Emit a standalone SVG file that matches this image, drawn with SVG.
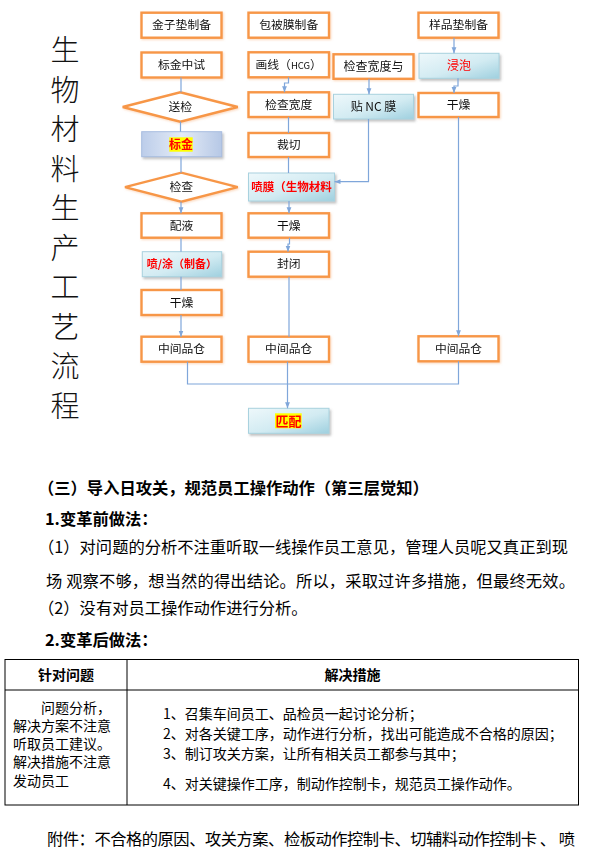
<svg xmlns="http://www.w3.org/2000/svg" width="601" height="851" viewBox="0 0 601 851">
<defs>
<style>
.box{fill:#fff;stroke:#F79646;stroke-width:2.4}
.blue{fill:url(#gBlue);stroke:#A9D2DF;stroke-width:1}
.lav{fill:url(#gLav);stroke:#A8BDE0;stroke-width:1}
.lab{font-family:"Noto Sans CJK SC","Noto Sans",sans-serif;font-size:11.8px;text-anchor:middle;fill:#111}
.red{fill:#FF0000;font-weight:bold}
.hl{fill:#FFFF00}
.conn{fill:none;stroke:#7FA6DA;stroke-width:1.2}
.title{font-family:"Noto Sans CJK SC",sans-serif;font-size:29px;font-weight:300;text-anchor:middle;fill:#111}
.body{font-family:"Noto Sans CJK SC",sans-serif;font-size:16.3px;fill:#000}
.bold{font-weight:bold}
.tb{font-family:"Noto Sans CJK SC",sans-serif;font-size:14px;fill:#000}
.grid{fill:none;stroke:#000;stroke-width:1}
</style>
<linearGradient id="gBlue" x1="0" y1="0" x2="1" y2="1">
<stop offset="0" stop-color="#EEF8FB"/>
<stop offset="0.55" stop-color="#D2EBF2"/>
<stop offset="1" stop-color="#9FD0DF"/>
</linearGradient>
<linearGradient id="gLav" x1="0" y1="0" x2="1" y2="0">
<stop offset="0" stop-color="#BCCDEA"/>
<stop offset="0.5" stop-color="#E4EBF6"/>
<stop offset="1" stop-color="#B6C8E6"/>
</linearGradient>
<filter id="sh" x="-10%" y="-20%" width="130%" height="160%">
<feDropShadow dx="1.5" dy="2" stdDeviation="1" flood-color="#777" flood-opacity="0.45"/>
</filter>
<filter id="sho" x="-10%" y="-20%" width="130%" height="160%">
<feDropShadow dx="1" dy="1" stdDeviation="0.8" flood-color="#F7B07A" flood-opacity="0.5"/>
</filter>
<marker id="ah" viewBox="0 0 8 8" refX="8" refY="4" markerWidth="6" markerHeight="6" markerUnits="userSpaceOnUse" orient="auto">
<path d="M0,0.8 L8,4 L0,7.2 z" fill="#7FA6DA"/>
</marker>
</defs>
<rect width="601" height="851" fill="#fff"/>

<g id="title">
<text class="title" x="65" y="61">生</text>
<text class="title" x="65" y="100.5">物</text>
<text class="title" x="65" y="140">材</text>
<text class="title" x="65" y="179.5">料</text>
<text class="title" x="65" y="219">生</text>
<text class="title" x="65" y="258.5">产</text>
<text class="title" x="65" y="298">工</text>
<text class="title" x="65" y="337.5">艺</text>
<text class="title" x="65" y="377">流</text>
<text class="title" x="65" y="416.5">程</text>
</g>

<g id="n_jinzi" filter="url(#sho)"><rect class="box" x="141.5" y="12.7" width="80" height="25"/><text class="lab" x="181.5" y="29.4">金子垫制备</text></g>
<g id="n_biaojinzs" filter="url(#sho)"><rect class="box" x="141.5" y="52.5" width="80" height="25"/><text class="lab" x="181.5" y="69.2">标金中试</text></g>
<g id="d_songjian" filter="url(#sho)"><polygon class="box" points="122.7,107 180.3,92.3 237.7,107 180.3,121.7"/><text class="lab" x="180.3" y="111.2">送检</text></g>
<g id="n_biaojin" filter="url(#sh)"><rect class="lav" x="141.7" y="131.7" width="80" height="25"/><rect class="hl" x="169.3" y="137.3" width="23.4" height="14.4"/><text class="lab red" x="181" y="148.6" style="font-size:12px">标金</text></g>
<g id="d_jiancha" filter="url(#sho)"><polygon class="box" points="125,187.2 181.3,172.7 237.7,187.2 181.3,201.7"/><text class="lab" x="181.3" y="191.4">检查</text></g>
<g id="n_peiye" filter="url(#sho)"><rect class="box" x="141.5" y="213.3" width="80" height="24.4"/><text class="lab" x="181.5" y="229.7">配液</text></g>
<g id="n_pentu" filter="url(#sh)"><rect class="blue" x="142.3" y="251.7" width="79.4" height="25"/><text class="lab red" x="182" y="268.3" style="font-size:11px">喷/涂（制备）</text></g>
<g id="n_ganzao1" filter="url(#sho)"><rect class="box" x="141.5" y="290" width="80" height="25"/><text class="lab" x="181.5" y="306.7">干燥</text></g>
<g id="n_zjpc1" filter="url(#sho)"><rect class="box" x="141.5" y="336.7" width="80" height="25"/><text class="lab" x="181.5" y="353.4">中间品仓</text></g>

<g id="n_baobei" filter="url(#sho)"><rect class="box" x="248.5" y="12.7" width="80.5" height="25"/><text class="lab" x="288.7" y="29.4">包被膜制备</text></g>
<g id="n_huaxian" filter="url(#sho)"><rect class="box" x="248.5" y="52.3" width="80.5" height="25"/><text class="lab" x="288.7" y="69">画线（<tspan style="font-size:9.5px">HCG</tspan>）</text></g>
<g id="n_jckd" filter="url(#sho)"><rect class="box" x="248.5" y="92.3" width="80.5" height="24.7"/><text class="lab" x="288.7" y="108.9">检查宽度</text></g>
<g id="n_caiqie" filter="url(#sho)"><rect class="box" x="248.5" y="133" width="80.5" height="24"/><text class="lab" x="288.7" y="149.2">裁切</text></g>
<g id="n_penmo" filter="url(#sh)"><rect class="blue" x="248.5" y="173" width="86" height="28"/><text class="lab red" x="291.5" y="191.3" style="font-size:11.5px">喷膜（生物材料</text></g>
<g id="n_ganzao2" filter="url(#sho)"><rect class="box" x="248.5" y="213.3" width="80.5" height="24.4"/><text class="lab" x="288.7" y="229.7">干燥</text></g>
<g id="n_fengbi" filter="url(#sho)"><rect class="box" x="248.5" y="251.7" width="80.5" height="25"/><text class="lab" x="288.7" y="268.4">封闭</text></g>
<g id="n_zjpc2" filter="url(#sho)"><rect class="box" x="248.5" y="336.7" width="80.5" height="25"/><text class="lab" x="288.7" y="353.4">中间品仓</text></g>
<g id="n_pipei" filter="url(#sh)"><rect class="blue" x="248.5" y="408.3" width="80.5" height="25"/><rect class="hl" x="275" y="413.3" width="26.7" height="15"/><text class="lab red" x="288.4" y="425.6" style="font-size:13px">匹配</text></g>

<g id="n_jckdy" filter="url(#sho)"><rect class="box" x="333.5" y="54.3" width="80" height="24.5"/><text class="lab" x="373.5" y="70.8" style="font-size:12px">检查宽度与</text></g>
<g id="n_tienc" filter="url(#sh)"><rect class="blue" x="333.5" y="94.3" width="80" height="24.7"/><text class="lab" x="373.5" y="110.9" style="font-size:12px">贴 NC 膜</text></g>

<g id="n_yangpin" filter="url(#sho)"><rect class="box" x="418.5" y="12.7" width="80" height="25"/><text class="lab" x="458.5" y="29.4">样品垫制备</text></g>
<g id="n_jinpao" filter="url(#sh)"><rect class="blue" x="419" y="53.3" width="80" height="25"/><text class="lab" x="459" y="70" style="fill:#FF0000;font-size:12px">浸泡</text></g>
<g id="n_ganzao3" filter="url(#sho)"><rect class="box" x="418.5" y="93" width="80" height="24"/><text class="lab" x="458.5" y="109.2">干燥</text></g>
<g id="n_zjpc3" filter="url(#sho)"><rect class="box" x="418.5" y="336.3" width="80" height="25"/><text class="lab" x="458.5" y="353">中间品仓</text></g>

<g id="connectors">
<path class="conn" d="M181,77.5 V92.3"/>
<path class="conn" d="M180.5,121.7 V131.7"/>
<path class="conn" d="M181,156.7 V172.7"/>
<path class="conn" d="M181,201.7 V213.3" marker-end="url(#ah)"/>
<path class="conn" d="M181,237.7 V251.7"/>
<path class="conn" d="M181,276.7 V290"/>
<path class="conn" d="M181,315 V336.7" marker-end="url(#ah)"/>
<path class="conn" d="M288.5,77.3 V83 H284.5 V92.3" marker-end="url(#ah)"/>
<path class="conn" d="M288.5,117 V133"/>
<path class="conn" d="M288.5,157 V173"/>
<path class="conn" d="M289,201 V213.3" marker-end="url(#ah)"/>
<path class="conn" d="M289.5,237.7 V244 H288 V251.7" marker-end="url(#ah)"/>
<path class="conn" d="M289,276.7 V336.7"/>
<path class="conn" d="M287.5,361.7 V408.3" marker-end="url(#ah)"/>
<path class="conn" d="M369,78.8 V94.3" marker-end="url(#ah)"/>
<path class="conn" d="M368.5,119 V181.7 H334.5" marker-end="url(#ah)"/>
<path class="conn" d="M454,37.7 V53.3" marker-end="url(#ah)"/>
<path class="conn" d="M458,78.3 V86 H454 V93" marker-end="url(#ah)"/>
<path class="conn" d="M458.5,117 V336.3" marker-end="url(#ah)"/>
<path class="conn" d="M187.5,361.7 V384 H458.5 V361.3"/>
</g>

<g id="text">
<text class="body bold" x="38" y="494">（三）导入日攻关，规范员工操作动作（第三层觉知）</text>
<text class="body bold" x="45" y="525">1.变革前做法：</text>
<text class="body" x="38" y="553" textLength="530" lengthAdjust="spacing">（1）对问题的分析不注重听取一线操作员工意见，管理人员呢又真正到现</text>
<text class="body" x="46" y="587" textLength="529" lengthAdjust="spacing">场 观察不够，想当然的得出结论。所以，采取过许多措施，但最终无效。</text>
<text class="body" x="38" y="614">（2）没有对员工操作动作进行分析。</text>
<text class="body bold" x="45" y="645.5">2.变革后做法：</text>
<text class="body" x="47" y="845" textLength="528" lengthAdjust="spacing">附件：不合格的原因、攻关方案、检板动作控制卡、切辅料动作控制卡 、 喷</text>
</g>

<g id="table">
<rect class="grid" x="5" y="659.5" width="573.5" height="145.5"/>
<line class="grid" x1="127" y1="659.5" x2="127" y2="805"/>
<line class="grid" x1="5" y1="690" x2="578.5" y2="690"/>
<text class="tb bold" x="66" y="680" text-anchor="middle">针对问题</text>
<text class="tb bold" x="352.5" y="680" text-anchor="middle">解决措施</text>
<text class="tb" x="41" y="712.5">问题分析，</text>
<text class="tb" x="13" y="730.8">解决方案不注意</text>
<text class="tb" x="13" y="749.1">听取员工建议。</text>
<text class="tb" x="13" y="767.4">解决措施不注意</text>
<text class="tb" x="13" y="785.7">发动员工</text>
<text class="tb" x="163" y="719">1、召集车间员工、品检员一起讨论分析；</text>
<text class="tb" x="163" y="739">2、对各关键工序，动作进行分析，找出可能造成不合格的原因；</text>
<text class="tb" x="163" y="758.5">3、制订攻关方案，让所有相关员工都参与其中；</text>
<text class="tb" x="163" y="789">4、对关键操作工序，制动作控制卡，规范员工操作动作。</text>
</g>
</svg>
